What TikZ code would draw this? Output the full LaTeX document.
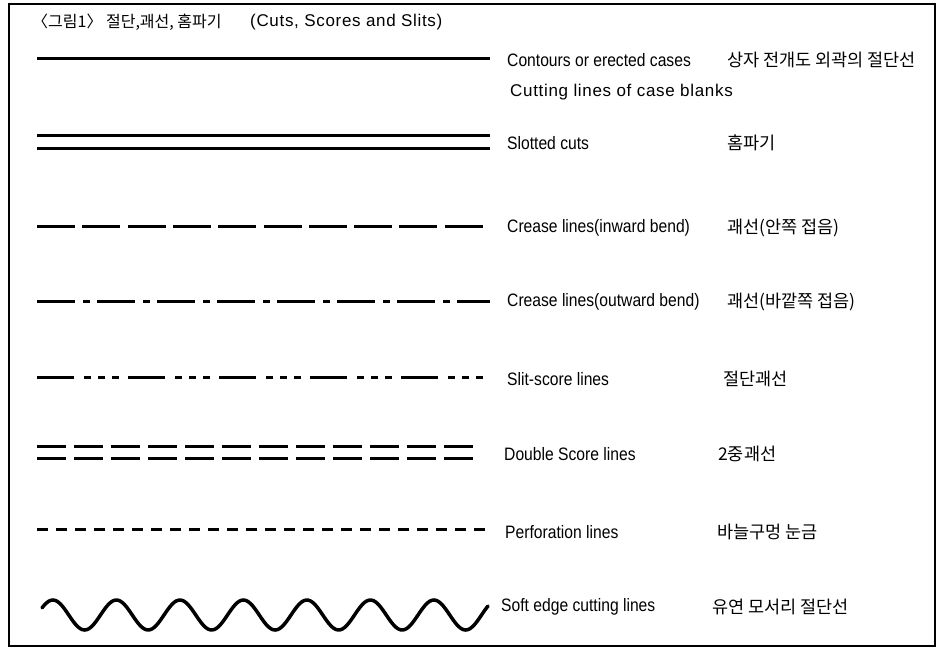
\documentclass[tikz,border=0pt]{standalone}
\usepackage{fontspec}
\setmainfont{Liberation Sans}
\newfontfamily\kofont{Noto Sans CJK KR}
\newfontfamily\narrowfont{Liberation Sans}[FakeStretch=0.87]
\newfontfamily\wideenfont{Liberation Sans}[LetterSpace=4]

\tikzstyle{every node}=[anchor=west, inner sep=0pt]
\tikzstyle{en}=[font={\narrowfont\fontsize{18}{20}\selectfont}]
\tikzstyle{enwide}=[font={\wideenfont\fontsize{17}{20}\selectfont}]
\tikzstyle{ko}=[font={\kofont\fontsize{17.5}{20}\selectfont}]
\tikzstyle{kotitle}=[font={\kofont\fontsize{16}{18}\selectfont}]
\tikzstyle{sample}=[line width=3pt]
\tikzstyle{frame}=[line width=1.5pt]

\begin{document}
\begin{tikzpicture}[x=1pt, y=-1pt]
    \useasboundingbox (0,0) rectangle (943,648);
    \draw [frame] (9,4) rectangle (935,646);

    % title
    \node [kotitle] (title) at (32,22) {〈그림1〉 절단,괘선, 홈파기};
    \node [enwide] (titleen) at (250,22) {(Cuts, Scores and Slits)};

    % sample lines
    \draw [sample] (37,58) -- (490,58);
    \draw [sample] (37,135) -- (490,135);
    \draw [sample] (37,148) -- (490,148);
    \draw [sample, dash pattern=on 38pt off 7.3pt] (37,226) -- (484,226);
    \draw [sample, dash pattern=on 38pt off 8pt on 7pt off 7pt] (37,301) -- (490,301);
    \draw [sample, dash pattern=on 37pt off 10pt on 7pt off 7pt on 7pt off 7pt on 7pt off 9pt] (37,377) -- (484,377);
    \draw [sample, dash pattern=on 29pt off 8pt] (37,446) -- (473,446);
    \draw [sample, dash pattern=on 29pt off 8pt] (37,458) -- (473,458);
    \draw [sample, dash pattern=on 11pt off 8pt] (37,529) -- (490,529);
    \draw [sample, line width=3.5pt, line cap=round] plot [domain=42:488, samples=200, smooth]
        (\x, {615-15*sin(5.669*(\x-37))});

    % labels
    \node [en] (contours) at (507,60) {Contours or erected cases};
    \node [ko] (contoursko) at (727,60) {상자 전개도 외곽의 절단선};
    \node [enwide] (blanks) at (510,92) {Cutting lines of case blanks};
    \node [en] (slotted) at (507,143) {Slotted cuts};
    \node [ko] (slottedko) at (727,143) {홈파기};
    \node [en] (inward) at (507,228) {Crease lines(inward bend)};
    \node [ko] (inwardko) at (727,228) {괘선(안쪽 접음)};
    \node [en] (outward) at (507,302) {Crease lines(outward bend)};
    \node [ko] (outwardko) at (727,302) {괘선(바깥쪽 접음)};
    \node [en] (slit) at (507,379) {Slit-score lines};
    \node [ko] (slitko) at (723,379) {절단괘선};
    \node [en] (double) at (504,454) {Double Score lines};
    \node [ko] (doubleko) at (718,454) {2중괘선};
    \node [en] (perf) at (505,532) {Perforation lines};
    \node [ko] (perfko) at (717,532) {바늘구멍 눈금};
    \node [en] (soft) at (501,607) {Soft edge cutting lines};
    \node [ko] (softko) at (712,607) {유연 모서리 절단선};
\end{tikzpicture}
\end{document}
